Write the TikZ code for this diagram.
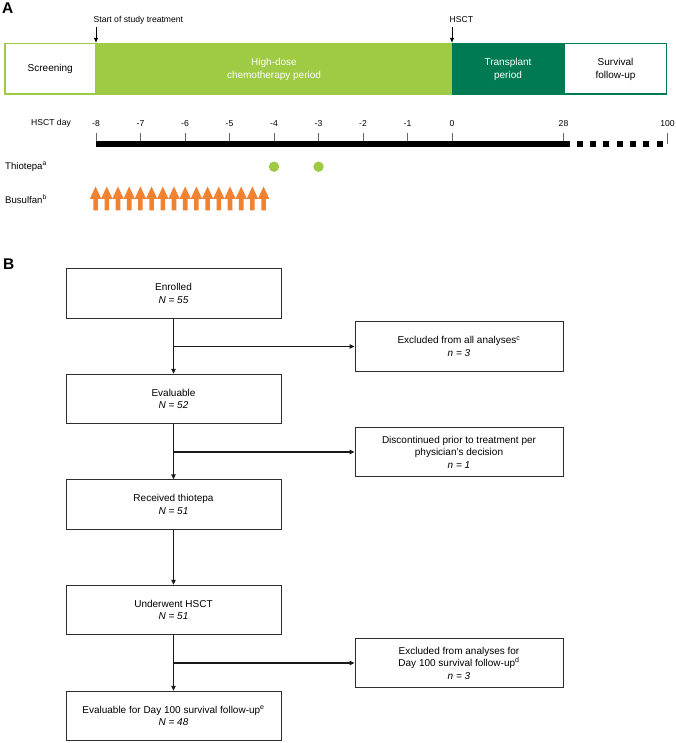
\documentclass[tikz,border=0pt]{standalone}
\usepackage{fontspec}
\setmainfont{Liberation Sans}
\usetikzlibrary{arrows.meta,calc}
\definecolor{lgreen}{RGB}{158,202,68}
\definecolor{dgreen}{RGB}{0,122,82}
\definecolor{orng}{RGB}{240,130,50}
\definecolor{boxline}{RGB}{45,45,45}
\begin{document}
\begin{tikzpicture}[x=1pt,y=-1pt,
  panellabel/.style={font=\fontsize{15.5}{16}\bfseries\selectfont, anchor=north west, inner sep=0pt},
  phase/.style={minimum height=52pt, inner sep=0pt, outer sep=0pt, align=center, font=\fontsize{10}{13}\selectfont},
  smalltext/.style={font=\fontsize{8.6}{10}\selectfont, inner sep=0pt},
  rowlabel/.style={font=\fontsize{9.6}{11}\selectfont, anchor=west, inner sep=0pt},
  downarrow/.style={draw=black, line width=1pt, -{Latex[length=5pt,width=4.5pt]}},
  tick/.style={draw=black!60, line width=0.8pt},
  flowbox/.style={draw=boxline, line width=1pt, minimum width=215pt, minimum height=49.5pt, align=center, inner sep=0pt, font=\fontsize{10}{12.5}\selectfont},
  sidebox/.style={flowbox, minimum width=208pt},
  flowarrow/.style={draw=black!90, line width=1.2pt, -{Triangle[length=5pt,width=4.5pt]}}
]
\useasboundingbox (0,0) rectangle (676,743);

% ---------- Panel A ----------
\node[panellabel] (labA) at (2,3) {A};

\node[phase, fill=lgreen, text=white, minimum width=356pt] (chemo) at (274,69) {High-dose\\chemotherapy period};
\node[phase, fill=dgreen, text=white, minimum width=112pt] (transplant) at (508,69) {Transplant\\period};
\node[phase, fill=white, draw=lgreen, line width=1.5pt, minimum width=91pt, minimum height=50.5pt] (screening) at (50.25,69) {Screening};
\node[phase, fill=white, draw=dgreen, line width=1.5pt, minimum width=102pt, minimum height=50.5pt] (survival) at (615.5,69) {Survival\\follow-up};

\node[smalltext, anchor=west] (startlab) at (93.5,20) {Start of study treatment};
\node[smalltext, anchor=west] (hsctlab) at (449.5,20) {HSCT};
\coordinate (startarrow) at ($(chemo.north west)+(0,-16)$);
\coordinate (hsctarrow) at ($(transplant.north west)+(0,-16)$);
\draw[downarrow] (startarrow) -- (chemo.north west);
\draw[downarrow] (hsctarrow) -- (transplant.north west);

% axis
\node[smalltext, anchor=west] (daylab) at (31,123.5) {HSCT day};
\foreach \d in {-8,...,0} {
  \pgfmathsetmacro{\xx}{452+44.5*\d}
  \node[smalltext] (d\d) at (\xx,123.5) {\d};
  \draw[tick] (\xx,133) -- (\xx,141);
}
\node[smalltext] (d28) at (563.5,123.5) {28};
\draw[tick] (563.5,133) -- (563.5,141);
\node[smalltext] (d100) at (667.5,123.5) {100};
\draw[tick] (667.5,133) -- (667.5,144);
\fill[black] (96,141) rectangle (570,147.3);
\foreach \i in {0,...,6} {
  \fill[black] (576.7+13.33*\i,141) rectangle ++(6,6.3);
}

% thiotepa
\node[rowlabel] (thio) at (5,166.7) {Thiotepa\textsuperscript{a}};
\fill[lgreen] (274,166.7) circle (5.2);
\fill[lgreen] (318.5,166.7) circle (5.2);

% busulfan
\node[rowlabel] (busu) at (5,199) {Busulfan\textsuperscript{b}};
\foreach \i in {0,...,15} {
  \fill[orng] (95.6+11.2*\i,186.5) -- ++(5.8,12.5) -- ++(-3.5,0) -- ++(0,11.5) -- ++(-4.6,0) -- ++(0,-11.5) -- ++(-3.5,0) -- cycle;
}

% ---------- Panel B ----------
\node[panellabel] (labB) at (3,259) {B};

\node[flowbox] (b1) at (173.5,293.5) {Enrolled\\\textit{N = 55}};
\node[flowbox] (b2) at (173.5,399) {Evaluable\\\textit{N = 52}};
\node[flowbox] (b3) at (173.5,504.5) {Received thiotepa\\\textit{N = 51}};
\node[flowbox] (b4) at (173.5,610) {Underwent HSCT\\\textit{N = 51}};
\node[flowbox] (b5) at (173.5,716) {Evaluable for Day 100 survival follow-up\textsuperscript{e}\\\textit{N = 48}};

\node[sidebox] (r1) at (459,346.5) {Excluded from all analyses\textsuperscript{c}\\\textit{n = 3}};
\node[sidebox] (r2) at (459,452) {Discontinued prior to treatment per\\physician’s decision\\\textit{n = 1}};
\node[sidebox] (r3) at (459,663) {Excluded from analyses for\\Day 100 survival follow-up\textsuperscript{d}\\\textit{n = 3}};

\draw[flowarrow] (b1) -- (b2);
\draw[flowarrow] (b2) -- (b3);
\draw[flowarrow] (b3) -- (b4);
\draw[flowarrow] (b4) -- (b5);
\draw[flowarrow] (b1.south |- r1.west) -- (r1.west);
\draw[flowarrow] (b2.south |- r2.west) -- (r2.west);
\draw[flowarrow] (b4.south |- r3.west) -- (r3.west);
\end{tikzpicture}
\end{document}
